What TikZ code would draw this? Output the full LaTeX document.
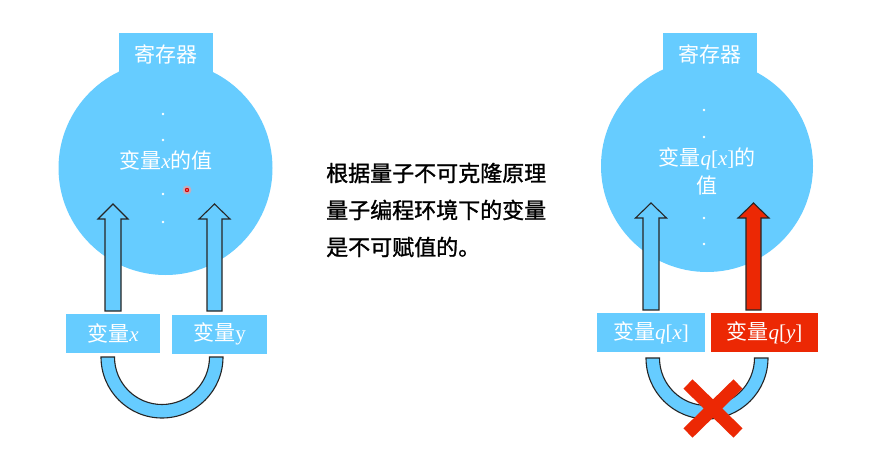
\documentclass[tikz,border=0pt]{standalone}
\usepackage{fontspec}
\newfontfamily\cjk{Noto Sans CJK SC}
\newfontfamily\cjkm[FakeBold=1.2]{Noto Sans CJK SC}
\newfontfamily\mi{Liberation Serif}
\newcommand\vi[1]{{\mi\itshape #1}}
\newcommand\vu[1]{{\mi #1}}
\usetikzlibrary{calc}
\definecolor{sky}{RGB}{102,204,255}
\definecolor{hot}{RGB}{236,40,4}
\tikzset{
  reg/.style={circle, fill=sky, minimum size=#1, inner sep=0pt},
  tab/.style={fill=sky, minimum width=94pt, minimum height=46pt, inner sep=0pt},
  wtxt/.style={text=white, font=\cjk\fontsize{21}{28}\selectfont, inner sep=0pt, align=center},
  varbox/.style={fill=#1, minimum height=39pt, inner sep=0pt, text=white, font=\cjk\fontsize{21}{25}\selectfont},
  blockarr/.style={draw=black!85, line width=1.1pt, fill=#1, line join=miter},
  ushape/.style={draw=black!85, line width=1.1pt, fill=sky},
  wdot/.style={fill=white, draw=none},
  cross/.style={draw=hot, line width=13pt},
}
\newcommand\blockarrow[7]{% center x, shaft hw, head hw, tip y, base y, bottom y, fill
  \draw[blockarr=#7] ({#1-#2},#6) -- ({#1-#2},#5) -- ({#1-#3},#5) -- (#1,#4) -- ({#1+#3},#5) -- ({#1+#2},#5) -- ({#1+#2},#6) -- cycle;}
\newcommand\halfring[4]{% center x, center y, outer r, inner r
  \draw[ushape] ({#1-#3},#2) arc[start angle=180, end angle=0, radius=#3] -- ({#1+#4},#2) arc[start angle=0, end angle=180, radius=#4] -- cycle;}
\begin{document}
\begin{tikzpicture}[x=1pt, y=-1pt]
\useasboundingbox[fill=white] (0,0) rectangle (876,474);

% ---------- left diagram ----------
\node[reg=214pt] (regL) at (165.5,168) {};
\node[tab] (tabL) at (166,56) {};
\node[wtxt] (tabLt) at (166,54) {寄存器};
\foreach \yy in {114,140,194,222} \fill[wdot] (163,\yy) circle (1.3);
\node[wtxt] (valL) at (166,160) {变量\vi{x}的值};
\fill[red!40, opacity=0.6] (187,190) circle (4.5);
\fill[red!85!black] (187,190) circle (2.2);
\fill[red!30] (187,190) circle (0.8);

\blockarrow{113}{8}{15}{204}{219}{311}{sky}
\blockarrow{214.5}{7.5}{15.5}{204}{219}{311}{sky}

\node[varbox=sky, minimum width=94pt] (bx) at (113,333) {变量\vi{x}};
\node[varbox=sky, minimum width=95pt] (by) at (219.5,334) {变量\vu{y}};

\halfring{162}{357}{61}{47.5}

% ---------- middle text ----------
\node[anchor=west, align=left, inner sep=0pt, font=\cjkm\fontsize{22}{37}\selectfont] (msg) at (326,210)
  {根据量子不可克隆原理\\量子编程环境下的变量\\是不可赋值的。};

% ---------- right diagram ----------
\node[reg=212pt] (regR) at (707,166) {};
\node[tab] (tabR) at (710,56) {};
\node[wtxt] (tabRt) at (710,54) {寄存器};
\foreach \yy in {110,137,218,244} \fill[wdot] (704,\yy) circle (1.3);
\node[wtxt] (valR) at (707,171) {变量\vi{q}\vu{[}\vi{x}\vu{]}的\\值};

\blockarrow{651}{8}{15.5}{203}{218}{310}{sky}
\blockarrow{753.5}{7.5}{15.5}{203}{218}{310}{hot}

\node[varbox=sky, minimum width=108pt] (bqx) at (651,332.5) {变量\vi{q}\vu{[}\vi{x}\vu{]}};
\node[varbox=hot, minimum width=107pt] (bqy) at (764.5,332.5) {变量\vi{q}\vu{[}\vi{y}\vu{]}};

\halfring{707}{358}{61}{47.5}

\coordinate (xa) at (688,384);
\coordinate (xb) at (738,433);
\coordinate (xc) at (738,384);
\coordinate (xd) at (688,433);
\draw[cross] (xa) -- (xb);
\draw[cross] (xc) -- (xd);
\end{tikzpicture}
\end{document}
